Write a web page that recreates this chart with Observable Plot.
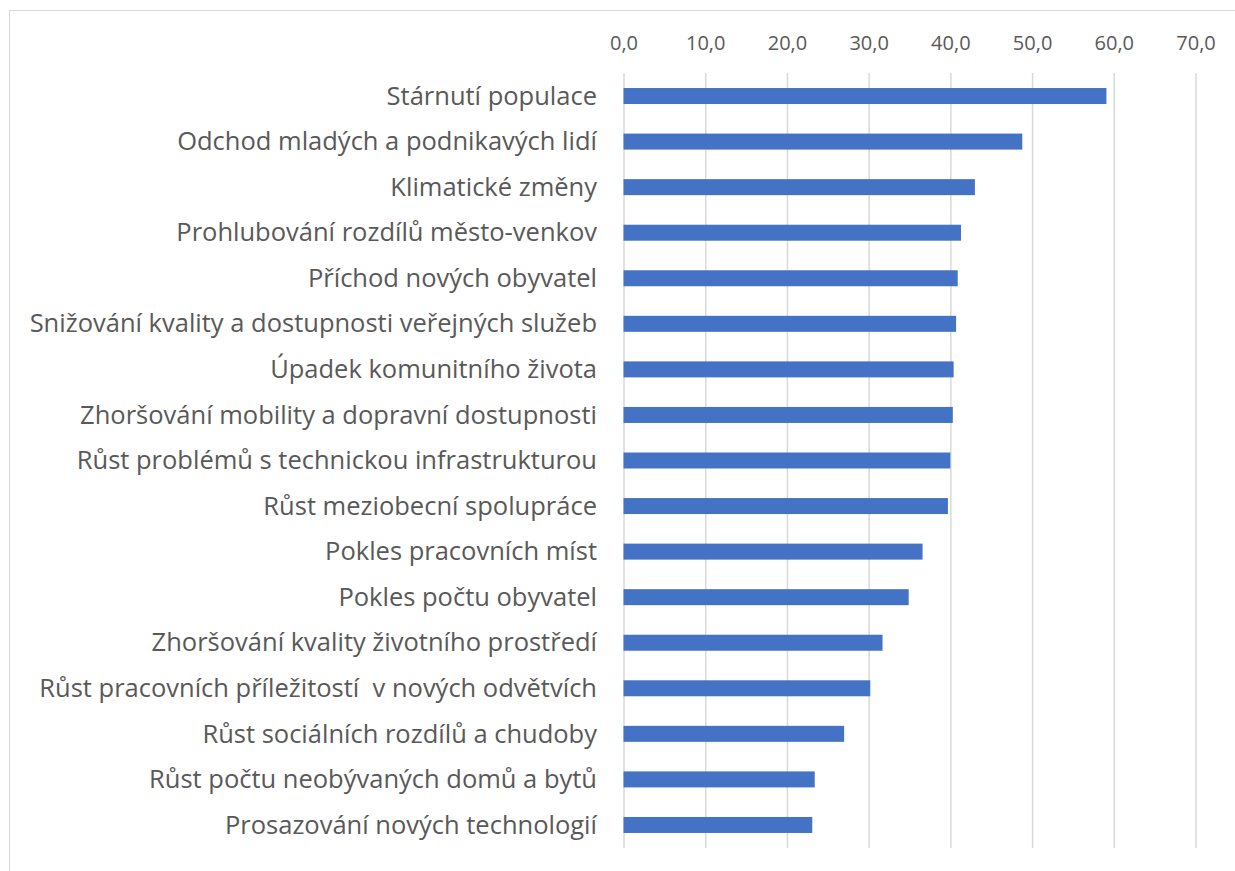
<!DOCTYPE html>
<html>
<head>
<meta charset="utf-8">
<script src="https://cdn.jsdelivr.net/npm/d3@7"></script>
<script src="https://cdn.jsdelivr.net/npm/@observablehq/plot@0.6"></script>
<style>
  html, body { margin: 0; padding: 0; background: #fff; }
  #wrap { position: relative; width: 1235px; height: 871px; overflow: hidden; }
  #frame { position: absolute; left: 9px; top: 10px; width: 1300px; height: 900px;
           border-left: 1.5px solid #d9d9d9; border-top: 1.5px solid #d9d9d9; box-sizing: border-box; }
  #chart { position: absolute; left: 0; top: 0; }
</style>
</head>
<body>
<div id="wrap"><div id="frame"></div><div id="chart"></div></div>
<script>
const categories = [
  "Stárnutí populace",
  "Odchod mladých a podnikavých lidí",
  "Klimatické změny",
  "Prohlubování rozdílů město-venkov",
  "Příchod nových obyvatel",
  "Snižování kvality a dostupnosti veřejných služeb",
  "Úpadek komunitního života",
  "Zhoršování mobility a dopravní dostupnosti",
  "Růst problémů s technickou infrastrukturou",
  "Růst meziobecní spolupráce",
  "Pokles pracovních míst",
  "Pokles počtu obyvatel",
  "Zhoršování kvality životního prostředí",
  "Růst pracovních příležitostí  v nových odvětvích",
  "Růst sociálních rozdílů a chudoby",
  "Růst počtu neobývaných domů a bytů",
  "Prosazování nových technologií"
];
const values = [59.1, 48.8, 43.0, 41.3, 40.9, 40.7, 40.4, 40.3, 40.0, 39.7, 36.6, 34.9, 31.7, 30.2, 27.0, 23.4, 23.1];
const xTicks = [0, 10, 20, 30, 40, 50, 60, 70];

const data = categories.map((c, i) => ({category: c, value: values[i]}));
const fmt = d => d.toFixed(1).replace(".", ",");

const chart = Plot.plot({
  width: 1235,
  height: 871,
  marginLeft: 623.5,
  marginRight: 39.5,
  marginTop: 73,
  marginBottom: 23,
  style: {fontFamily: "Open Sans, sans-serif", background: "transparent"},
  x: {domain: [0, 70], ticks: xTicks, tickFormat: fmt},
  y: {domain: categories, paddingInner: 0.649, paddingOuter: 0.33, round: false},
  marks: [
    Plot.gridX(xTicks, {stroke: "#d9d9d9", strokeOpacity: 1, strokeWidth: 1.5}),
    Plot.barX(data, {x: "value", y: "category", fill: "#4472C4"}),
    Plot.axisX({anchor: "top", ticks: xTicks, tickFormat: fmt, tickSize: 0, tickPadding: 24,
                fontSize: 20, fill: "#595959", label: null}),
    Plot.axisY({tickSize: 0, tickPadding: 27, fontSize: 25.5, fill: "#595959", label: null, textOverflow: null})
  ]
});
document.getElementById("chart").appendChild(chart);
</script>
</body>
</html>
